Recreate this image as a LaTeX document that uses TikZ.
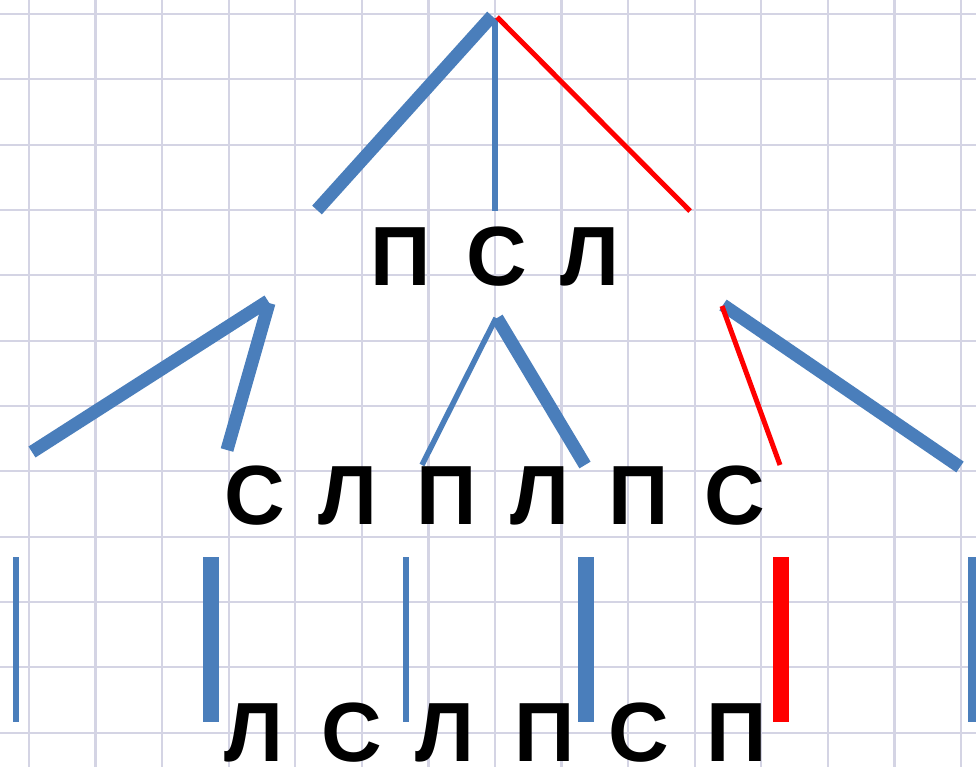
\documentclass[tikz,border=0pt]{standalone}
\usepackage{fontspec}
\setmainfont{Liberation Sans}
\definecolor{pblue}{HTML}{4A7EBB}
\definecolor{pred}{HTML}{FF0000}
\definecolor{gridc}{HTML}{D4D4E4}
\begin{document}
\begin{tikzpicture}[x=1pt,y=-1pt,
  gridline/.style={draw=gridc,line width=2.2pt},
  thickb/.style={draw=pblue,line width=13pt},
  thinb/.style={draw=pblue,line width=5.5pt},
  thinr/.style={draw=pred,line width=5pt},
  barthick/.style={draw=pblue,line width=16pt},
  barthin/.style={draw=pblue,line width=6pt},
  barred/.style={draw=pred,line width=16pt},
  letter/.style={anchor=base,inner sep=0pt,font=\fontsize{84}{84}\selectfont\bfseries}]
\useasboundingbox (0,0) rectangle (976,767);
\fill[white] (0,0) rectangle (976,767);
\begin{scope}
\clip (0,0) rectangle (976,767);
\foreach \k in {0,...,14} \draw[gridline] ({29+66.57*\k},0) -- ({29+66.57*\k},767);
\foreach \k in {0,...,11} \draw[gridline] (0,{14+65.33*\k}) -- (976,{14+65.33*\k});
\end{scope}
% coordinates
\coordinate (a1) at (492,16);
\coordinate (a2) at (495,18);
\coordinate (a3) at (497,17);
\coordinate (e1) at (317,210);
\coordinate (e2) at (495,211);
\coordinate (e3) at (690,211);
\coordinate (l1) at (268,301);
\coordinate (l2) at (269,303);
\coordinate (le1) at (32,452);
\coordinate (le2) at (227,450);
\coordinate (m1) at (496,318);
\coordinate (m2) at (497,318);
\coordinate (me1) at (422,465);
\coordinate (me2) at (585,465);
\coordinate (r1) at (723,305);
\coordinate (r2) at (722,306);
\coordinate (re1) at (960,467);
\coordinate (re2) at (780,465);
\foreach \n/\x in {b1/16,b2/211,b3/406,b4/586,b5/781,b6/976}{
  \coordinate (\n t) at (\x,557);
  \coordinate (\n b) at (\x,722);
}
% level 1
\draw[thickb] (a1) -- (e1);
\draw[thinb] (a2) -- (e2);
\draw[thinr] (a3) -- (e3);
% level 2
\draw[thickb] (l1) -- (le1);
\draw[thickb] (l2) -- (le2);
\draw[thinb] (m1) -- (me1);
\draw[thickb] (m2) -- (me2);
\draw[thickb] (r1) -- (re1);
\draw[thinr] (r2) -- (re2);
% level 3
\draw[barthin] (b1t) -- (b1b);
\draw[barthick] (b2t) -- (b2b);
\draw[barthin] (b3t) -- (b3b);
\draw[barthick] (b4t) -- (b4b);
\draw[barred] (b5t) -- (b5b);
\draw[barthick] (b6t) -- (b6b);
% letters
\node[letter] (t1) at (400.5,285) {П};
\node[letter] (t2) at (497,285) {С};
\node[letter] (t3) at (590,285) {Л};
\node[letter] (s1) at (255,524) {С};
\node[letter] (s2) at (348,524) {Л};
\node[letter] (s3) at (447,524) {П};
\node[letter] (s4) at (540,524) {Л};
\node[letter] (s5) at (639,524) {П};
\node[letter] (s6) at (735,524) {С};
\node[letter] (u1) at (254,761) {Л};
\node[letter] (u2) at (352,761) {С};
\node[letter] (u3) at (445,761) {Л};
\node[letter] (u4) at (545,761) {П};
\node[letter] (u5) at (639,761) {С};
\node[letter] (u6) at (737,761) {П};
\end{tikzpicture}
\end{document}
